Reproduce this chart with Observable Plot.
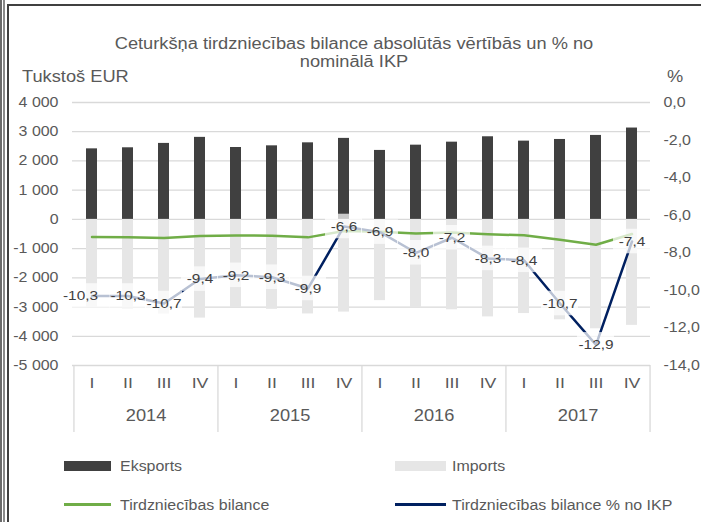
<!DOCTYPE html>
<html><head><meta charset="utf-8">
<script src="https://cdn.jsdelivr.net/npm/d3@7"></script>
<script src="https://cdn.jsdelivr.net/npm/@observablehq/plot@0.6"></script>
<style>
body{margin:0;background:#fff;font-family:"Liberation Sans",Arial,sans-serif;color:#595959;}
#wrap{position:relative;width:701px;height:522px;overflow:hidden;background:#fff;}
.stripe{position:absolute;top:0;bottom:0;}
#frameTop{position:absolute;left:7px;right:0;top:4px;height:2px;background:#404040;}
#chart{position:absolute;left:0;top:0;}
#title{position:absolute;left:65px;width:578px;top:35px;text-align:center;font-size:16px;line-height:18px;transform:scaleX(1.14);transform-origin:50% 0;}
.unit{position:absolute;top:68px;font-size:16px;line-height:18px;transform:scaleX(1.14);transform-origin:0 0;}
.lg{position:absolute;font-size:14px;line-height:16px;transform:scaleX(1.14);transform-origin:0 0;}
.sw{position:absolute;}
</style></head>
<body><div id="wrap">
<div class="stripe" style="left:0;width:2px;background:#6a6a6a"></div>
<div class="stripe" style="left:3px;width:2px;background:#8a8a8a"></div>
<div class="stripe" style="left:7px;width:2px;background:#404040;top:4px"></div>
<div id="frameTop"></div>
<div id="chart"></div>
<div id="title">Ceturkšņa tirdzniecības bilance absolūtās vērtībās un % no<br>nominālā IKP</div>
<div class="unit" style="left:22px">Tukstoš EUR</div>
<div class="unit" style="left:667px">%</div>
<div class="sw" style="left:64px;top:461px;width:47px;height:10px;background:#404040"></div>
<div class="lg" style="left:120px;top:458px">Eksports</div>
<div class="sw" style="left:395px;top:461px;width:51px;height:10px;background:#e6e6e6"></div>
<div class="lg" style="left:452px;top:458px">Imports</div>
<div class="sw" style="left:64px;top:503px;width:47px;height:3px;background:#70ad47"></div>
<div class="lg" style="left:120px;top:497px">Tirdzniecības bilance</div>
<div class="sw" style="left:395px;top:503px;width:51px;height:3px;background:#002060"></div>
<div class="lg" style="left:452px;top:497px">Tirdzniecības bilance % no IKP</div>
</div>
<script>
const years = ["2014","2015","2016","2017"];
const quarters = ["I","II","III","IV"];
const exportsVals = [2414,2450,2600,2807, 2460,2517,2620,2772, 2360,2540,2643,2827, 2678,2735,2873,3126];
const importsVals = [-3014,-3060,-3240,-3377, -3010,-3077,-3235,-3172, -2780,-3025,-3093,-3337, -3223,-3435,-3743,-3626];
const balanceVals = [-600,-610,-640,-570, -550,-560,-615,-400, -420,-485,-450,-510, -545,-700,-870,-500];
const pctVals = [-10.3,-10.3,-10.7,-9.4, -9.2,-9.3,-9.9,-6.6, -6.9,-8.0,-7.2,-8.3, -8.4,-10.7,-12.9,-7.4];
const leftTicks = [4000,3000,2000,1000,0,-1000,-2000,-3000,-4000,-5000];
const rightTicks = [0,-2,-4,-6,-8,-10,-12,-14];

const keys = years.flatMap(y => quarters.map(q => y + "-" + q));
const data = keys.map((k, i) => ({i, key: k, q: k.split("-")[1], exp: exportsVals[i], imp: importsVals[i], bal: balanceVals[i], pct: pctVals[i]}));
const first = data.filter(d => d.i === 0);
const rest = data.filter(d => d.i !== 0);
const toLeft = p => 4000 + p * 9000 / 14;
const fromLeft = v => (v - 4000) * 14 / 9000;
const loc = d3.formatLocale({decimal: ",", thousands: " ", grouping: [3], currency: ["", ""], minus: "-"});
const fmtL = loc.format(",d");
const fmt1 = loc.format(".1f");
const step = 578 / 16;
const grey = "#595959";
const boxOpts = (dx, extraRight) => ({x: "key", y1: d => toLeft(d.pct) - 420, y2: d => toLeft(d.pct) + 420, fill: "white", fillOpacity: 0.72, insetLeft: -13, insetRight: -13 - extraRight, dx});
const lblOpts = (dx) => ({x: "key", y: d => toLeft(d.pct), text: d => fmt1(d.pct), fill: "#404040", fontSize: 13.5, dx});

const plot = Plot.plot({
  width: 701, height: 440,
  marginLeft: 72, marginRight: 51, marginTop: 102, marginBottom: 8,
  style: {fontFamily: "Liberation Sans, Arial, sans-serif", fontSize: "14px", color: grey, background: "transparent", overflow: "visible"},
  x: {type: "band", domain: keys, paddingInner: 0.695, paddingOuter: 0.3475, axis: null},
  y: {domain: [-5000, 4000], range: [365, 102], axis: null},
  marks: [
    Plot.ruleY(leftTicks, {stroke: "#d9d9d9", strokeWidth: 1.3}),
    Plot.ruleX(years, {x: d => d + "-I", dx: -step / 2, stroke: "#d9d9d9", strokeWidth: 1.3, insetTop: 263}),
    Plot.ruleX(["2017-IV"], {x: d => d, dx: step / 2, stroke: "#d9d9d9", strokeWidth: 1.3, insetTop: 263}),
    Plot.barY(data, {x: "key", y: "imp", fill: "#e6e6e6"}),
    Plot.barY(data, {x: "key", y: "exp", fill: "#404040"}),
    Plot.line(data, {x: "key", y: "bal", stroke: "#70ad47", strokeWidth: 2.5}),
    Plot.line(data, {x: "key", y: d => toLeft(d.pct), stroke: "#002060", strokeWidth: 2.5}),
    Plot.barY(first, boxOpts(-11.5, 11)),
    Plot.barY(rest, boxOpts(0, 0)),
    Plot.text(first, lblOpts(-11.5)),
    Plot.text(rest, lblOpts(0)),
    Plot.axisY(leftTicks, {anchor: "left", tickSize: 0, tickPadding: 14, tickFormat: fmtL, label: null, fontSize: 14}),
    Plot.axisY(rightTicks.map(toLeft), {anchor: "right", tickSize: 0, tickPadding: 13, tickFormat: v => fmt1(fromLeft(v) + 0), label: null, textAnchor: "start", fontSize: 14}),
    Plot.text(data, {x: "key", text: "q", frameAnchor: "bottom", dy: -45, fontSize: 15.5, fill: grey}),
    Plot.text(years, {x: d => d + "-II", dx: step / 2, text: d => d, frameAnchor: "bottom", dy: -12, fontSize: 16, fill: grey})
  ]
});
plot.querySelectorAll("text").forEach(t => {
  const tr = t.getAttribute("transform") || "";
  t.setAttribute("transform", tr + " scale(1.14,1)");
});
document.getElementById("chart").appendChild(plot);
</script>
</body></html>
